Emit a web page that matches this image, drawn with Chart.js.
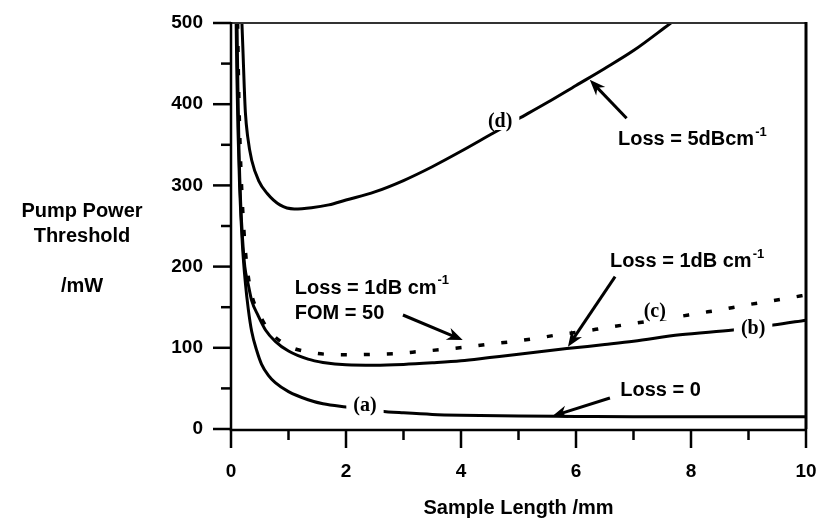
<!DOCTYPE html>
<html><head><meta charset="utf-8">
<script src="https://cdn.jsdelivr.net/npm/chart.js@4/dist/chart.umd.min.js"></script>
<style>html,body{margin:0;padding:0;background:#fff}</style>
</head><body>
<canvas id="c" width="822" height="520"></canvas>
<script>
// ---- data (sample length in mm, pump power threshold in mW) ----
const lenA  = [0.09,0.1,0.12,0.15,0.2,0.25,0.3,0.36,0.45,0.53,0.65,0.77,1,1.34,1.6,2,2.6,3,3.5,4,5,6,7,8,9,10];
const pumpA = [500,445,372,298,225,180,148,120,96,80,66,57,46,36,31,27,22,20,18,17,16,15.5,15,15,15,15];

const lenB  = [0.105,0.11,0.12,0.14,0.17,0.2,0.24,0.3,0.36,0.47,0.6,0.77,1,1.34,1.6,2,2.5,3,3.5,4,4.5,5,5.84,6.5,7,7.81,8.73,9.43,10];
const pumpB = [500,470,420,340,275,235,200,178,158,140,122,108,96,86,82,79,78.5,79.5,81.5,84,88,92,99,104,108,116,122,128,134];

const lenC  = [0.115,0.13,0.16,0.2,0.25,0.3,0.36,0.45,0.53,0.65,0.88,1.1,1.26,1.66,2.07,2.47,2.88,3.29,3.69,4.1,4.48,4.88,5.29,5.69,6.1,6.5,6.91,7.33,7.75,8.13,8.53,8.94,9.34,9.75,10];
const pumpC = [500,430,345,275,220,188,165,147,136,122,107,99,96,92,91.5,92,93,95.5,98,101,104.5,107.5,111.5,116,120,124.5,129,133.5,138,142.5,147,152.5,157,162,165];

const lenD  = [0.19,0.21,0.23,0.25,0.29,0.36,0.48,0.63,0.85,1.1,1.4,1.7,2,2.5,3,3.5,4,4.5,5,5.5,6,6.5,7,7.65];
const pumpD = [500,462,422,390,360,331,306,290,276,271,272.5,276,282,292,306,323,342,362,382,402,423,444,466,500];

const xMajorTicks = [0,2,4,6,8,10];
const xMinorTicks = [1,3,5,7,9];
const yMajorTicks = [0,100,200,300,400,500];
const yMinorTicks = [50,150,250,350,450];

const curveLabels = [
  {text:'(a)', x:2.33, y:29.6},
  {text:'(b)', x:9.08, y:124.4},
  {text:'(c)', x:7.37, y:145.3},
  {text:'(d)', x:4.68, y:379.3}
];
// annotation texts: [main, superscript], anchored left at (x,y) in data units
const notes = [
  {lines:[['Loss = 5dBcm','-1']], x:6.73, y:356},
  {lines:[['Loss = 1dB cm','-1']], x:6.59, y:205.7},
  {lines:[['Loss = 1dB cm','-1'],['FOM = 50','']], x:1.11, y:173.6},
  {lines:[['Loss = 0','']], x:6.77, y:48}
];
const arrows = [
  {x1:6.88, y1:382.6, x2:6.24, y2:430},
  {x1:6.68, y1:187.6, x2:5.86, y2:101.4},
  {x1:2.99, y1:140.4, x2:4.03, y2:109.6},
  {x1:6.59, y1:38.2,  x2:5.58, y2:15.5}
];
const yTitle = ['Pump Power','Threshold','','/mW'];

const SANS = '"Liberation Sans", Arial, Helvetica, sans-serif';
const SERIF = '"Liberation Serif", "Times New Roman", serif';

function pts(xs, ys){ return xs.map((x,i)=>({x:x, y:ys[i]})); }

function drawArrow(ctx, x1,y1,x2,y2){
  const ang = Math.atan2(y2-y1, x2-x1);
  ctx.lineWidth = 3;
  ctx.lineCap = 'butt';
  ctx.beginPath();
  ctx.moveTo(x1,y1);
  ctx.lineTo(x2-Math.cos(ang)*9, y2-Math.sin(ang)*9);
  ctx.stroke();
  const L = 17, a = 0.38;
  ctx.beginPath();
  ctx.moveTo(x2,y2);
  ctx.lineTo(x2-L*Math.cos(ang-a), y2-L*Math.sin(ang-a));
  ctx.lineTo(x2-11*Math.cos(ang), y2-11*Math.sin(ang));
  ctx.lineTo(x2-L*Math.cos(ang+a), y2-L*Math.sin(ang+a));
  ctx.closePath();
  ctx.fill();
}

// fixed plot box (pixels) to match the reference frame
const BOX = {left:231, right:806, top:23, bottom:429};

const fixLayout = {
  id:'fixLayout',
  afterLayout(chart){
    const ca = chart.chartArea;
    ca.left = BOX.left; ca.right = BOX.right; ca.top = BOX.top; ca.bottom = BOX.bottom;
    ca.width = BOX.right - BOX.left; ca.height = BOX.bottom - BOX.top;
    const x = chart.scales.x, y = chart.scales.y;
    x.left = BOX.left; x.right = BOX.right; x.width = ca.width;
    x.top = BOX.bottom; x.bottom = chart.height; x.height = chart.height - BOX.bottom;
    x.configure();
    y.left = 0; y.right = BOX.left; y.width = BOX.left;
    y.top = BOX.top; y.bottom = BOX.bottom; y.height = ca.height;
    y.configure();
  }
};

const annot = {
  id:'annot',
  afterDatasetsDraw(chart){
    const ctx = chart.ctx, xs = chart.scales.x, ys = chart.scales.y;
    const ca = chart.chartArea;
    ctx.save();
    // curve labels with gaps
    ctx.font = 'bold 20px ' + SERIF;
    ctx.textAlign = 'center'; ctx.textBaseline = 'middle';
    curveLabels.forEach(l=>{
      const px = xs.getPixelForValue(l.x), py = ys.getPixelForValue(l.y);
      const w = ctx.measureText(l.text).width;
      ctx.fillStyle = '#fff';
      ctx.fillRect(px - w/2 - 7, py - 9, w + 14, 18);
      ctx.fillStyle = '#000';
      ctx.fillText(l.text, px, py + 1);
    });
    // notes
    ctx.fillStyle = '#000'; ctx.strokeStyle = '#000';
    ctx.textAlign = 'left'; ctx.textBaseline = 'middle';
    notes.forEach(n=>{
      const px = xs.getPixelForValue(n.x); let py = ys.getPixelForValue(n.y);
      n.lines.forEach(ln=>{
        ctx.font = 'bold 20px ' + SANS;
        ctx.fillText(ln[0], px, py);
        if (ln[1]) {
          const w = ctx.measureText(ln[0]).width;
          ctx.font = 'bold 13px ' + SANS;
          ctx.fillText(ln[1], px + w + 1, py - 8);
        }
        py += 25;
      });
    });
    arrows.forEach(a=>{
      drawArrow(ctx, xs.getPixelForValue(a.x1), ys.getPixelForValue(a.y1),
                     xs.getPixelForValue(a.x2), ys.getPixelForValue(a.y2));
    });
    // frame
    ctx.strokeStyle = '#333'; ctx.lineWidth = 2;
    ctx.beginPath(); ctx.moveTo(ca.left, ca.top); ctx.lineTo(ca.right, ca.top); ctx.stroke();
    ctx.strokeStyle = '#000'; ctx.lineWidth = 3;
    ctx.beginPath(); ctx.moveTo(ca.right, ca.top-1); ctx.lineTo(ca.right, ca.bottom); ctx.stroke();
    ctx.lineWidth = 2.5;
    ctx.beginPath(); ctx.moveTo(ca.left, ca.top-1); ctx.lineTo(ca.left, ca.bottom+1); ctx.lineTo(ca.right+1, ca.bottom+1); ctx.stroke();
    // tick marks
    ctx.lineWidth = 2.5;
    yMajorTicks.forEach(v=>{ const p = ys.getPixelForValue(v); ctx.beginPath(); ctx.moveTo(ca.left-18,p); ctx.lineTo(ca.left,p); ctx.stroke(); });
    yMinorTicks.forEach(v=>{ const p = ys.getPixelForValue(v); ctx.beginPath(); ctx.moveTo(ca.left-10,p); ctx.lineTo(ca.left,p); ctx.stroke(); });
    xMajorTicks.forEach(v=>{ const p = xs.getPixelForValue(v); ctx.beginPath(); ctx.moveTo(p,ca.bottom); ctx.lineTo(p,ca.bottom+19); ctx.stroke(); });
    xMinorTicks.forEach(v=>{ const p = xs.getPixelForValue(v); ctx.beginPath(); ctx.moveTo(p,ca.bottom); ctx.lineTo(p,ca.bottom+11); ctx.stroke(); });
    // y title
    ctx.font = 'bold 20px ' + SANS; ctx.textAlign = 'center'; ctx.textBaseline = 'alphabetic';
    const base = [217, 242, 267, 292];
    yTitle.forEach((t,i)=>{ if (t) ctx.fillText(t, 82, base[i]); });
    ctx.restore();
  }
};

const tickFont = {family: SANS, size: 19, weight: 'bold'};
const line = (d, extra)=>Object.assign({data:d, borderColor:'#000', borderWidth:3, pointRadius:0,
  pointHoverRadius:0, fill:false, cubicInterpolationMode:'monotone'}, extra||{});

new Chart(document.getElementById('c'), {
  type:'line',
  data:{datasets:[
    line(pts(lenA,pumpA)),
    line(pts(lenB,pumpB)),
    line(pts(lenC,pumpC), {borderDash:[6,17], borderWidth:3.5}),
    line(pts(lenD,pumpD))
  ]},
  options:{
    responsive:false, animation:false, devicePixelRatio:1,
    layout:{padding:{left:0, right:16, top:23, bottom:0}},
    plugins:{legend:{display:false}, tooltip:{enabled:false}},
    scales:{
      x:{type:'linear', min:0, max:10,
         ticks:{stepSize:2, padding:31, font:tickFont, color:'#000', maxRotation:0},
         afterBuildTicks:(s)=>{ s.ticks = xMajorTicks.map(v=>({value:v})); },
         grid:{display:false, drawTicks:false}, border:{display:false},
         title:{display:true, text:'Sample Length /mm', color:'#000', font:{family:SANS,size:20,weight:'bold'}, padding:{top:0,bottom:0}},
         afterFit:(s)=>{ s.height = 91; }},
      y:{type:'linear', min:0, max:500,
         ticks:{stepSize:100, padding:28, font:tickFont, color:'#000'},
         afterBuildTicks:(s)=>{ s.ticks = yMajorTicks.map(v=>({value:v})); },
         grid:{display:false, drawTicks:false}, border:{display:false},
         afterFit:(s)=>{ s.width = 231; }}
    }
  },
  plugins:[fixLayout, annot]
});
</script>
</body></html>
